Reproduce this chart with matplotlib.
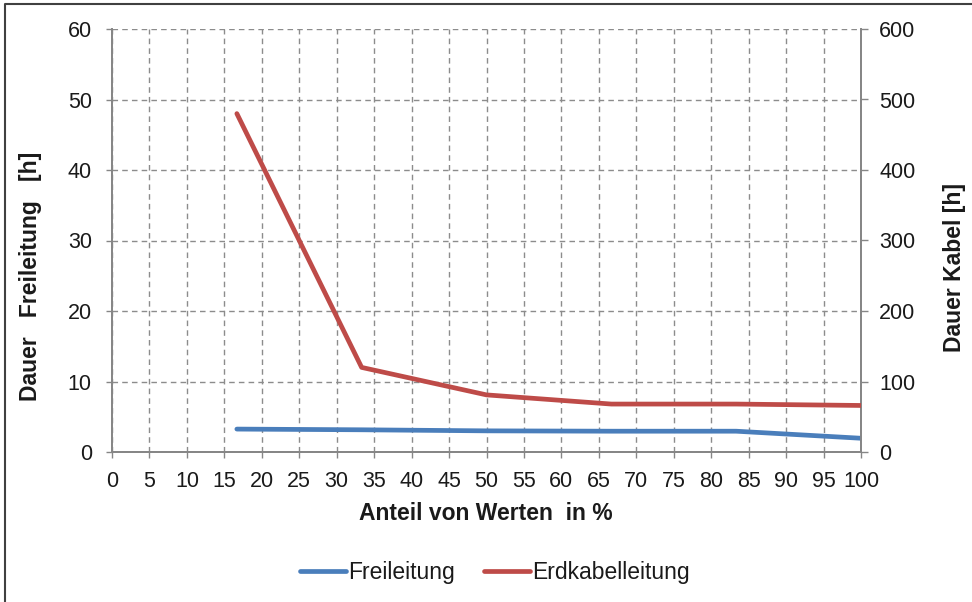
import matplotlib
matplotlib.use("Agg")
import matplotlib.pyplot as plt
from matplotlib.lines import Line2D

plt.rcParams['font.family'] = ['Liberation Sans', 'DejaVu Sans']

# Data
anteil = [16.67, 33.33, 50.0, 66.67, 83.33, 100.0]
freileitung = [3.25, 3.15, 3.0, 2.95, 2.95, 1.95]
erdkabel = [480, 120, 81, 68, 68, 66]
x_ticks = list(range(0, 101, 5))
left_ticks = [0, 10, 20, 30, 40, 50, 60]
right_ticks = [0, 100, 200, 300, 400, 500, 600]

W, H = 972, 602
fig = plt.figure(figsize=(W / 100, H / 100), dpi=100)
fig.patch.set_facecolor('white')

L, R, T, B = 112, 861, 29, 452
ax = fig.add_axes([L / W, 1 - B / H, (R - L) / W, (B - T) / H])
ax2 = ax.twinx()

grey = '#868686'
blue = '#4A7EBB'
red = '#BE4B48'
txt = '#1a1a1a'
tick_fs = 15.5
label_fs = 16.5

ax.plot(anteil, freileitung, color=blue, lw=3.4, solid_capstyle='round', zorder=3)
ax2.plot(anteil, erdkabel, color=red, lw=3.4, solid_capstyle='round', zorder=3)

ax.set_xlim(0, 100)
ax.set_ylim(0, 60)
ax2.set_ylim(0, 600)
ax.set_xticks(x_ticks)
ax.set_yticks(left_ticks)
ax2.set_yticks(right_ticks)

ax.grid(True, color='#8C8C8C', linestyle=(0, (4, 3)), linewidth=1.0)
ax.set_axisbelow(True)

for a in (ax, ax2):
    a.spines['top'].set_visible(False)
    for s in ('left', 'right', 'bottom'):
        a.spines[s].set_color(grey)
        a.spines[s].set_linewidth(1.3)
    a.set_facecolor('none')

ax.tick_params(axis='y', direction='out', length=4.5, width=1.0, color=grey,
               labelsize=tick_fs, pad=10, labelcolor=txt)
ax.tick_params(axis='x', direction='out', length=4, width=1.0, color=grey,
               labelsize=tick_fs, pad=10, labelcolor=txt)
ax2.tick_params(axis='y', direction='out', length=5, width=1.0, color=grey,
                labelsize=tick_fs, pad=8, labelcolor=txt)

# Axis titles
fig.text(486 / W, 1 - 513 / H, 'Anteil von Werten  in %', ha='center', va='center',
         fontsize=label_fs, fontweight='bold', color=txt)
fig.text(31 / W, 1 - 276 / H, 'Dauer   Freileitung   [h]', ha='center', va='center',
         rotation=90, fontsize=label_fs, fontweight='bold', color=txt)
fig.text(954 / W, 1 - 268 / H, 'Dauer Kabel [h]', ha='center', va='center',
         rotation=90, fontsize=label_fs, fontweight='bold', color=txt)

# Legend
handles = [Line2D([], [], color=blue, lw=3.4, solid_capstyle='round'),
           Line2D([], [], color=red, lw=3.4, solid_capstyle='round')]
fig.legend(handles, ['Freileitung', 'Erdkabelleitung'], loc='center',
           bbox_to_anchor=(495 / W, 1 - 573 / H), ncol=2, frameon=False,
           fontsize=label_fs, handlelength=2.0, handletextpad=0.1, columnspacing=1.3,
           labelcolor=txt)

# Chart area outline
fig.add_artist(Line2D([5 / W, 5 / W, 1], [0, 1 - 4 / H, 1 - 4 / H],
                      transform=fig.transFigure, color='#404040', lw=1.5))

fig.savefig('out.png', dpi=100)
